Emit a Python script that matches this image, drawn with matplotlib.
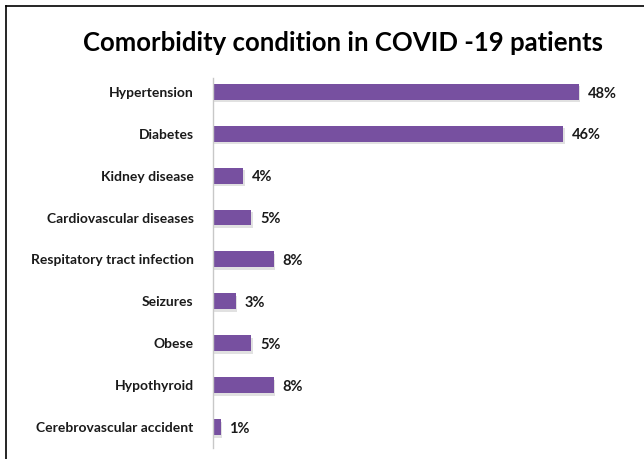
import matplotlib
matplotlib.use("Agg")
import matplotlib.pyplot as plt
from matplotlib.lines import Line2D

conditions = [
    "Hypertension",
    "Diabetes",
    "Kidney disease",
    "Cardiovascular diseases",
    "Respitatory tract infection",
    "Seizures",
    "Obese",
    "Hypothyroid",
    "Cerebrovascular accident",
]
percentages = [48, 46, 4, 5, 8, 3, 5, 8, 1]
title = "Comorbidity condition in COVID -19 patients"

W, H = 644, 459
plt.rcParams["font.family"] = ["Lato", "DejaVu Sans"]
fig = plt.figure(figsize=(W / 100, H / 100), dpi=100)
fig.patch.set_facecolor("white")

# axes in pixel geometry
left, right = 213, 632
top, bottom = 78, 448
ax = fig.add_axes([left / W, 1 - bottom / H, (right - left) / W, (bottom - top) / H])

ypos = list(range(len(conditions)))
bh = 0.38

# soft shadow behind each bar
ax.barh([y + 0.06 for y in ypos], [p + 0.2 for p in percentages], height=bh,
        color="#c4c4c4", alpha=0.5, zorder=1)
ax.barh(ypos, percentages, height=bh, color="#7750a0", zorder=2)

for y, p in zip(ypos, percentages):
    ax.text(p + 1.15, y + 0.04, f"{p}%", va="center", ha="left",
            fontsize=10.5, fontweight="bold", color="#1a1a1a")

ax.set_xlim(0, 55)
ax.set_ylim(8.5, -0.33)
ax.set_yticks(ypos)
ax.set_yticklabels(conditions, fontsize=10, fontweight="bold", color="#1a1a1a")
ax.tick_params(axis="y", length=0, pad=14)
ax.set_xticks([])
for s in ["top", "right", "bottom"]:
    ax.spines[s].set_visible(False)
ax.spines["left"].set_color("#c8c8c8")
ax.spines["left"].set_linewidth(1.0)

fig.text(343 / W, 1 - 43 / H, title, ha="center", va="center",
         fontsize=18.5, fontweight="bold", color="black")

# outer frame (left and top edges)
fig.add_artist(Line2D([5.5 / W, 5.5 / W], [0, 1 - 5.5 / H], transform=fig.transFigure,
                      color="black", linewidth=1.2))
fig.add_artist(Line2D([5.5 / W, 1], [1 - 5.5 / H, 1 - 5.5 / H], transform=fig.transFigure,
                      color="black", linewidth=1.2))

fig.savefig("out.png", dpi=100)
